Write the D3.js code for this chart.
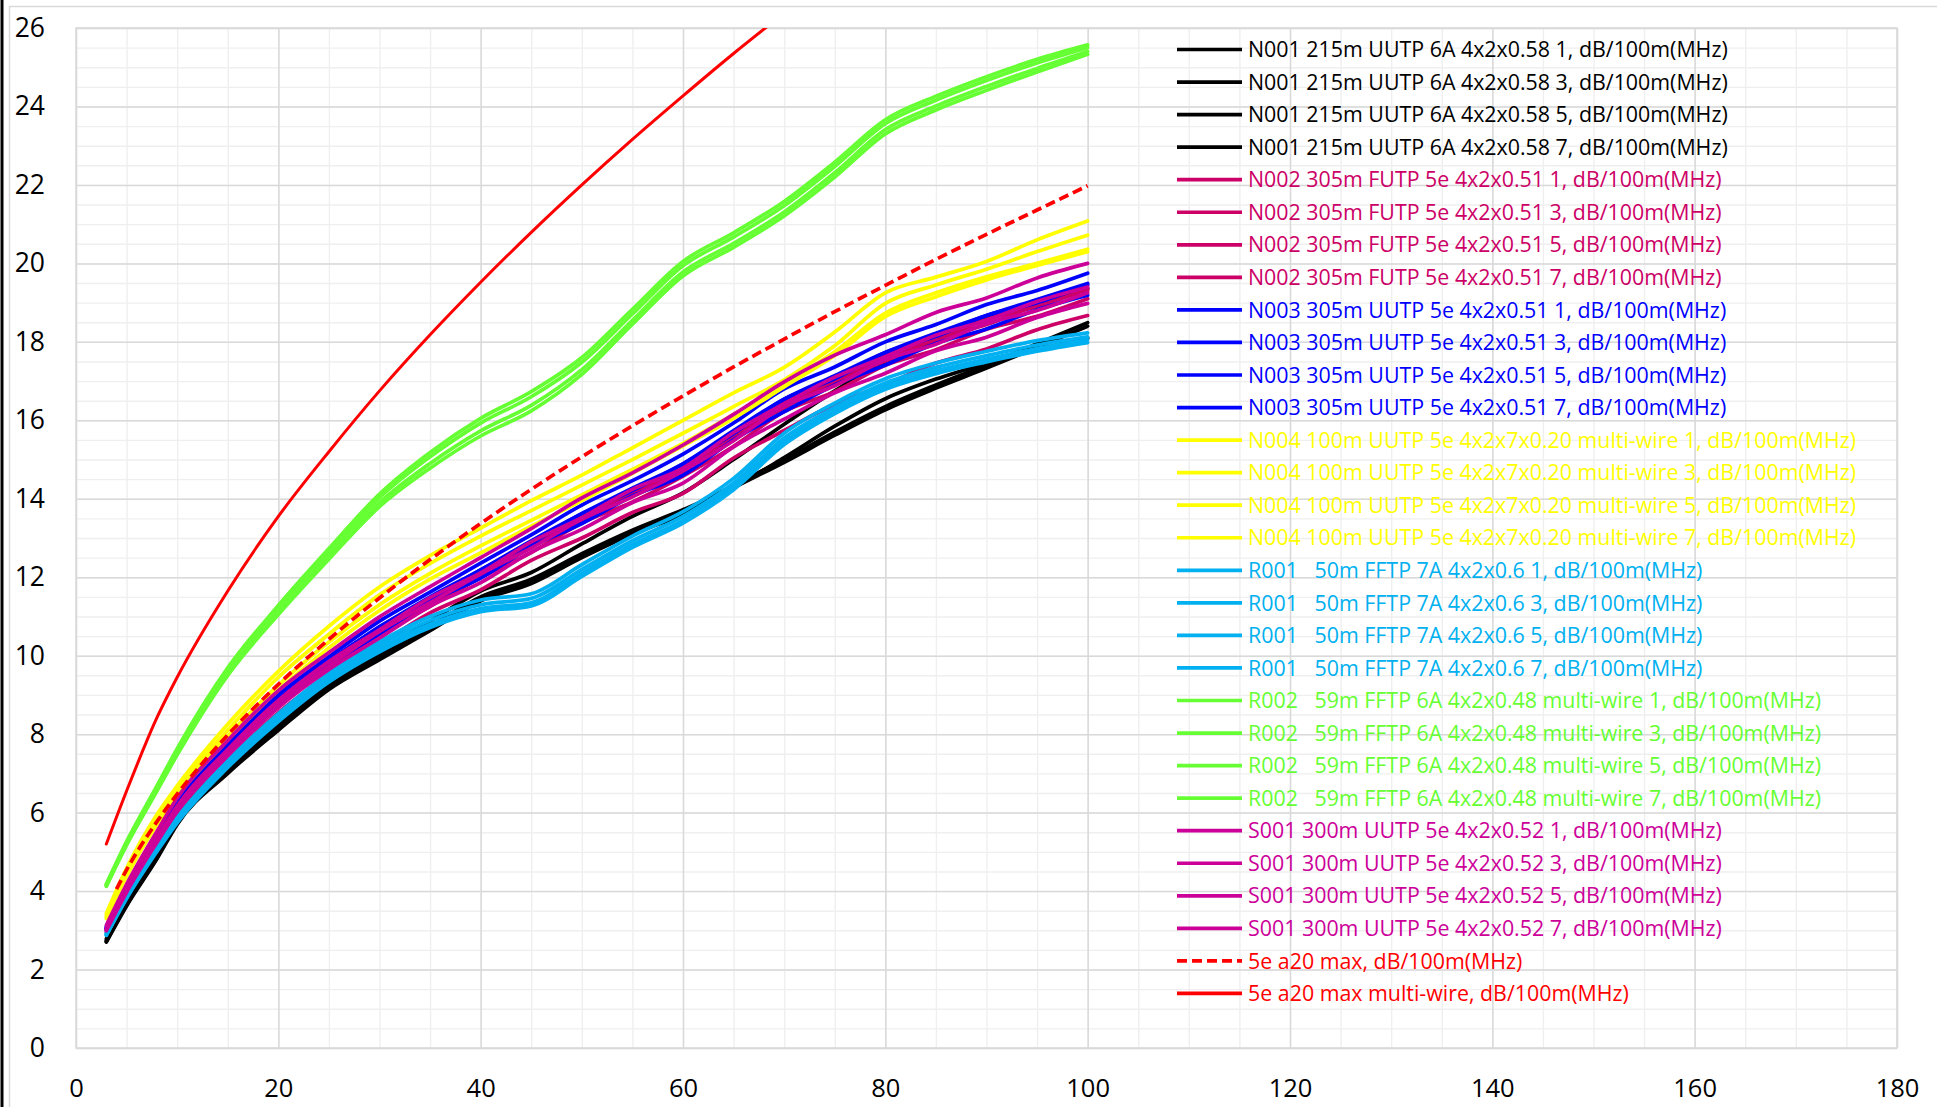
<!DOCTYPE html>
<html>
<head>
<meta charset="utf-8">
<script src="https://cdn.jsdelivr.net/npm/d3@7"></script>
<style>
  html, body { margin: 0; padding: 0; background: #ffffff; }
  svg { display: block; }
  text { font-family: "Open Sans", "Noto Sans", sans-serif; }
</style>
</head>
<body>
<svg id="chart" width="1937" height="1107"></svg>
<script>
// ---- Insertion loss, dB/100m, versus frequency (MHz) ----
const freq = [3, 5, 8, 10, 15, 20, 25, 30, 35, 40, 45, 50, 55, 60, 65, 70, 75, 80, 85, 90, 95, 100];
const freqLimit = [4, 5, 8, 10, 15, 20, 25, 30, 35, 40, 45, 50, 55, 60, 65, 70, 75, 80, 85, 90, 95, 100];

const n001_1 = [2.72, 3.65, 4.85, 5.74, 7.05, 8.15, 9.2, 9.95, 10.7, 11.45, 11.9, 12.55, 13.15, 13.65, 14.35, 15.0, 15.7, 16.35, 16.9, 17.41, 17.95, 18.49];
const n001_3 = [2.78, 3.72, 4.95, 5.82, 7.15, 8.28, 9.32, 10.1, 10.88, 11.65, 12.12, 12.85, 13.55, 14.15, 15.0, 15.9, 16.75, 17.5, 18.05, 18.62, 19.0, 19.36];
const n001_5 = [2.74, 3.67, 4.88, 5.77, 7.1, 8.2, 9.25, 10.0, 10.75, 11.5, 11.95, 12.6, 13.2, 13.72, 14.3, 15.05, 15.85, 16.55, 17.05, 17.45, 17.8, 18.1];
const n001_7 = [2.7, 3.62, 4.82, 5.7, 7.0, 8.1, 9.14, 9.9, 10.64, 11.4, 11.84, 12.5, 13.1, 13.6, 14.28, 14.93, 15.62, 16.27, 16.82, 17.33, 17.86, 18.4];

const n002_1 = [3.04, 4.04, 5.34, 6.15, 7.59, 8.83, 9.78, 10.67, 11.4, 12.13, 12.8, 13.55, 14.13, 14.8, 15.57, 16.45, 16.97, 17.64, 18.04, 18.57, 18.9, 19.35];
const n002_3 = [3.03, 4.03, 5.33, 6.14, 7.57, 8.81, 9.8, 10.61, 11.43, 12.05, 12.84, 13.45, 14.16, 14.69, 15.6, 16.32, 17.0, 17.51, 18.07, 18.44, 18.93, 19.3];
const n002_5 = [3.01, 3.99, 5.27, 6.07, 7.5, 8.73, 9.67, 10.56, 11.26, 11.99, 12.63, 13.38, 13.92, 14.58, 15.34, 16.22, 16.73, 17.4, 17.8, 18.32, 18.65, 19.1];
const n002_7 = [2.95, 3.91, 5.15, 5.93, 7.34, 8.55, 9.51, 10.29, 11.09, 11.68, 12.43, 13.0, 13.65, 14.14, 15.04, 15.74, 16.41, 16.91, 17.46, 17.82, 18.31, 18.67];

const n003_1 = [3.09, 4.12, 5.45, 6.29, 7.75, 9.0, 9.97, 10.88, 11.62, 12.36, 13.08, 13.84, 14.46, 15.14, 15.93, 16.8, 17.36, 18.0, 18.44, 18.95, 19.31, 19.75];
const n003_3 = [3.06, 4.07, 5.38, 6.2, 7.65, 8.89, 9.87, 10.73, 11.5, 12.19, 12.93, 13.62, 14.27, 14.89, 15.74, 16.54, 17.14, 17.73, 18.22, 18.67, 19.08, 19.49];
const n003_5 = [3.05, 4.06, 5.37, 6.19, 7.63, 8.88, 9.83, 10.74, 11.45, 12.19, 12.87, 13.62, 14.21, 14.89, 15.66, 16.54, 17.06, 17.73, 18.14, 18.67, 19.0, 19.45];
const n003_7 = [3.02, 4.01, 5.3, 6.1, 7.53, 8.77, 9.75, 10.55, 11.37, 11.98, 12.77, 13.37, 14.07, 14.6, 15.5, 16.22, 16.9, 17.41, 17.96, 18.33, 18.82, 19.19];

const n004_1 = [3.43, 4.58, 5.95, 6.68, 8.25, 9.6, 10.75, 11.75, 12.55, 13.25, 13.95, 14.6, 15.3, 16.0, 16.7, 17.35, 18.25, 19.25, 19.65, 20.05, 20.6, 21.08];
const n004_3 = [3.38, 4.5, 5.87, 6.6, 8.1, 9.45, 10.55, 11.55, 12.35, 13.05, 13.7, 14.35, 15.0, 15.67, 16.35, 17.03, 17.9, 18.98, 19.45, 19.85, 20.3, 20.72];
const n004_5 = [3.33, 4.43, 5.78, 6.5, 7.95, 9.25, 10.35, 11.3, 12.1, 12.8, 13.45, 14.1, 14.75, 15.41, 16.15, 16.94, 17.75, 18.73, 19.25, 19.66, 20.0, 20.36];
const n004_7 = [3.3, 4.38, 5.7, 6.42, 7.85, 9.12, 10.2, 11.15, 11.95, 12.62, 13.3, 13.95, 14.65, 15.35, 16.05, 16.85, 17.65, 18.64, 19.15, 19.58, 19.95, 20.3];

const r001_1 = [2.92, 3.89, 5.12, 5.87, 7.32, 8.52, 9.56, 10.36, 11.0, 11.42, 11.58, 12.32, 13.05, 13.67, 14.52, 15.67, 16.44, 17.06, 17.46, 17.76, 18.03, 18.23];
const r001_3 = [2.9, 3.86, 5.08, 5.82, 7.26, 8.45, 9.48, 10.27, 10.9, 11.3, 11.46, 12.2, 12.93, 13.55, 14.4, 15.55, 16.33, 16.95, 17.35, 17.65, 17.92, 18.13];
const r001_5 = [2.88, 3.83, 5.04, 5.78, 7.2, 8.38, 9.4, 10.18, 10.8, 11.2, 11.35, 12.1, 12.83, 13.45, 14.3, 15.45, 16.24, 16.86, 17.26, 17.56, 17.83, 18.05];
const r001_7 = [2.87, 3.81, 5.01, 5.74, 7.15, 8.32, 9.33, 10.1, 10.72, 11.12, 11.27, 12.02, 12.76, 13.38, 14.23, 15.38, 16.17, 16.79, 17.19, 17.49, 17.76, 17.98];

const r002_1 = [4.18, 5.26, 6.68, 7.63, 9.69, 11.28, 12.73, 14.12, 15.18, 16.05, 16.73, 17.6, 18.83, 20.05, 20.78, 21.58, 22.58, 23.66, 24.26, 24.76, 25.2, 25.57];
const r002_3 = [4.16, 5.23, 6.64, 7.58, 9.63, 11.21, 12.65, 14.03, 15.07, 15.93, 16.6, 17.48, 18.71, 19.94, 20.67, 21.47, 22.47, 23.56, 24.16, 24.66, 25.11, 25.5];
const r002_5 = [4.14, 5.2, 6.59, 7.52, 9.56, 11.12, 12.55, 13.9, 14.9, 15.73, 16.38, 17.29, 18.55, 19.78, 20.51, 21.31, 22.31, 23.41, 24.01, 24.51, 24.97, 25.4];
const r002_7 = [4.12, 5.17, 6.55, 7.47, 9.5, 11.05, 12.46, 13.8, 14.78, 15.6, 16.24, 17.17, 18.45, 19.68, 20.41, 21.21, 22.2, 23.3, 23.91, 24.41, 24.88, 25.33];

const s001_1 = [3.13, 4.17, 5.52, 6.37, 7.84, 9.11, 10.08, 10.99, 11.76, 12.5, 13.24, 14.02, 14.66, 15.37, 16.15, 16.98, 17.66, 18.18, 18.75, 19.12, 19.63, 20.0];
const s001_3 = [3.05, 4.05, 5.36, 6.17, 7.61, 8.86, 9.85, 10.66, 11.48, 12.11, 12.9, 13.52, 14.24, 14.78, 15.69, 16.42, 17.1, 17.62, 18.17, 18.55, 19.03, 19.4];
const s001_5 = [3.03, 4.02, 5.31, 6.12, 7.56, 8.79, 9.74, 10.62, 11.35, 12.08, 12.74, 13.48, 14.05, 14.71, 15.48, 16.36, 16.88, 17.54, 17.94, 18.47, 18.8, 19.25];
const s001_7 = [2.99, 3.97, 5.24, 6.03, 7.45, 8.68, 9.65, 10.45, 11.26, 11.86, 12.64, 13.22, 13.9, 14.4, 15.32, 16.03, 16.7, 17.2, 17.77, 18.12, 18.62, 18.98];

const limit5e = [4.05, 4.54, 5.77, 6.47, 7.98, 9.27, 10.42, 11.47, 12.45, 13.37, 14.24, 15.07, 15.86, 16.62, 17.36, 18.07, 18.77, 19.44, 20.10, 20.74, 21.36, 21.98];
const limit5eMulti = [5.2, 6.55, 8.42, 9.45, 11.65, 13.55, 15.2, 16.75, 18.18, 19.52, 20.79, 22.0, 23.16, 24.27, 25.35, 26.38, 27.4, 28.38, 29.35, 30.28, 31.19, 32.09];

const xTicks = [0, 20, 40, 60, 80, 100, 120, 140, 160, 180];
const yTicks = [0, 2, 4, 6, 8, 10, 12, 14, 16, 18, 20, 22, 24, 26];

const colBlack = "#000000", colCrimson = "#CC0066", colBlue = "#0000FF", colYellow = "#FFFF00",
      colSky = "#00B0F0", colGreen = "#66FF33", colMagenta = "#CC0099", colRed = "#FF0000";

const series = [
  { name: "N001 215m UUTP 6A 4x2x0.58 1, dB/100m(MHz)", color: colBlack, xs: freq, ys: n001_1 },
  { name: "N001 215m UUTP 6A 4x2x0.58 3, dB/100m(MHz)", color: colBlack, xs: freq, ys: n001_3 },
  { name: "N001 215m UUTP 6A 4x2x0.58 5, dB/100m(MHz)", color: colBlack, xs: freq, ys: n001_5 },
  { name: "N001 215m UUTP 6A 4x2x0.58 7, dB/100m(MHz)", color: colBlack, xs: freq, ys: n001_7 },
  { name: "N002 305m FUTP 5e 4x2x0.51 1, dB/100m(MHz)", color: colCrimson, xs: freq, ys: n002_1 },
  { name: "N002 305m FUTP 5e 4x2x0.51 3, dB/100m(MHz)", color: colCrimson, xs: freq, ys: n002_3 },
  { name: "N002 305m FUTP 5e 4x2x0.51 5, dB/100m(MHz)", color: colCrimson, xs: freq, ys: n002_5 },
  { name: "N002 305m FUTP 5e 4x2x0.51 7, dB/100m(MHz)", color: colCrimson, xs: freq, ys: n002_7 },
  { name: "N003 305m UUTP 5e 4x2x0.51 1, dB/100m(MHz)", color: colBlue, xs: freq, ys: n003_1 },
  { name: "N003 305m UUTP 5e 4x2x0.51 3, dB/100m(MHz)", color: colBlue, xs: freq, ys: n003_3 },
  { name: "N003 305m UUTP 5e 4x2x0.51 5, dB/100m(MHz)", color: colBlue, xs: freq, ys: n003_5 },
  { name: "N003 305m UUTP 5e 4x2x0.51 7, dB/100m(MHz)", color: colBlue, xs: freq, ys: n003_7 },
  { name: "N004 100m UUTP 5e 4x2x7x0.20 multi-wire 1, dB/100m(MHz)", color: colYellow, xs: freq, ys: n004_1 },
  { name: "N004 100m UUTP 5e 4x2x7x0.20 multi-wire 3, dB/100m(MHz)", color: colYellow, xs: freq, ys: n004_3 },
  { name: "N004 100m UUTP 5e 4x2x7x0.20 multi-wire 5, dB/100m(MHz)", color: colYellow, xs: freq, ys: n004_5 },
  { name: "N004 100m UUTP 5e 4x2x7x0.20 multi-wire 7, dB/100m(MHz)", color: colYellow, xs: freq, ys: n004_7 },
  { name: "R001   50m FFTP 7A 4x2x0.6 1, dB/100m(MHz)", color: colSky, xs: freq, ys: r001_1 },
  { name: "R001   50m FFTP 7A 4x2x0.6 3, dB/100m(MHz)", color: colSky, xs: freq, ys: r001_3 },
  { name: "R001   50m FFTP 7A 4x2x0.6 5, dB/100m(MHz)", color: colSky, xs: freq, ys: r001_5 },
  { name: "R001   50m FFTP 7A 4x2x0.6 7, dB/100m(MHz)", color: colSky, xs: freq, ys: r001_7 },
  { name: "R002   59m FFTP 6A 4x2x0.48 multi-wire 1, dB/100m(MHz)", color: colGreen, xs: freq, ys: r002_1 },
  { name: "R002   59m FFTP 6A 4x2x0.48 multi-wire 3, dB/100m(MHz)", color: colGreen, xs: freq, ys: r002_3 },
  { name: "R002   59m FFTP 6A 4x2x0.48 multi-wire 5, dB/100m(MHz)", color: colGreen, xs: freq, ys: r002_5 },
  { name: "R002   59m FFTP 6A 4x2x0.48 multi-wire 7, dB/100m(MHz)", color: colGreen, xs: freq, ys: r002_7 },
  { name: "S001 300m UUTP 5e 4x2x0.52 1, dB/100m(MHz)", color: colMagenta, xs: freq, ys: s001_1 },
  { name: "S001 300m UUTP 5e 4x2x0.52 3, dB/100m(MHz)", color: colMagenta, xs: freq, ys: s001_3 },
  { name: "S001 300m UUTP 5e 4x2x0.52 5, dB/100m(MHz)", color: colMagenta, xs: freq, ys: s001_5 },
  { name: "S001 300m UUTP 5e 4x2x0.52 7, dB/100m(MHz)", color: colMagenta, xs: freq, ys: s001_7 },
  { name: "5e a20 max, dB/100m(MHz)", color: colRed, xs: freqLimit, ys: limit5e, dashed: true },
  { name: "5e a20 max multi-wire, dB/100m(MHz)", color: colRed, xs: freq, ys: limit5eMulti, thin: true }
];

// ---- layout ----
const W = 1937, H = 1107;
const plot = { left: 76, right: 1897, top: 28, bottom: 1048 };
const x = d3.scaleLinear().domain([0, 180]).range([plot.left, plot.right]);
const y = d3.scaleLinear().domain([0, 26]).range([plot.bottom, plot.top]);
const FONT = "'Open Sans', 'Noto Sans', sans-serif";

const svg = d3.select("#chart");
svg.append("rect").attr("width", W).attr("height", H).attr("fill", "#ffffff");

// chart area frame and window edge
svg.append("rect")
  .attr("x", 9.5).attr("y", 6.5).attr("width", W + 10).attr("height", H + 10)
  .attr("fill", "none").attr("stroke", "#d9d9d9").attr("stroke-width", 1.5);
svg.append("line")
  .attr("x1", 2).attr("x2", 2).attr("y1", 0).attr("y2", H)
  .attr("stroke", "#000000").attr("stroke-width", 3);

const plotH = plot.bottom - plot.top, plotW = plot.right - plot.left;

// minor gridlines
svg.append("g")
  .attr("transform", `translate(0,${plot.bottom})`)
  .call(d3.axisBottom(x).tickValues(d3.range(0, 181, 5)).tickSize(-plotH).tickFormat(""))
  .call(g => g.select(".domain").remove())
  .call(g => g.selectAll("line").attr("stroke", "#efefef").attr("stroke-width", 1.4));
svg.append("g")
  .attr("transform", `translate(${plot.left},0)`)
  .call(d3.axisLeft(y).tickValues(d3.range(0, 26.01, 0.5)).tickSize(-plotW).tickFormat(""))
  .call(g => g.select(".domain").remove())
  .call(g => g.selectAll("line").attr("stroke", "#efefef").attr("stroke-width", 1.4));

// major gridlines
svg.append("g")
  .attr("transform", `translate(0,${plot.bottom})`)
  .call(d3.axisBottom(x).tickValues(xTicks).tickSize(-plotH).tickFormat(""))
  .call(g => g.select(".domain").remove())
  .call(g => g.selectAll("line").attr("stroke", "#d9d9d9").attr("stroke-width", 1.5));
svg.append("g")
  .attr("transform", `translate(${plot.left},0)`)
  .call(d3.axisLeft(y).tickValues(yTicks).tickSize(-plotW).tickFormat(""))
  .call(g => g.select(".domain").remove())
  .call(g => g.selectAll("line").attr("stroke", "#d9d9d9").attr("stroke-width", 1.5));

// plot area border
svg.append("rect")
  .attr("x", plot.left).attr("y", plot.top).attr("width", plotW).attr("height", plotH)
  .attr("fill", "none").attr("stroke", "#d9d9d9").attr("stroke-width", 1.5);

// axis labels
svg.append("g")
  .attr("transform", `translate(${plot.left},0)`)
  .call(d3.axisLeft(y).tickValues(yTicks).tickSize(0).tickPadding(31).tickFormat(d3.format("d")))
  .call(g => g.select(".domain").remove())
  .call(g => g.selectAll("text").attr("font-size", 26.5).attr("fill", "#000").attr("font-family", FONT));
svg.append("g")
  .attr("transform", `translate(0,${plot.bottom})`)
  .call(d3.axisBottom(x).tickValues(xTicks).tickSize(0).tickPadding(31).tickFormat(d3.format("d")))
  .call(g => g.select(".domain").remove())
  .call(g => g.selectAll("text").attr("font-size", 25.5).attr("fill", "#000").attr("font-family", FONT));

// clip for the curves
svg.append("defs").append("clipPath").attr("id", "plotClip")
  .append("rect").attr("x", plot.left).attr("y", plot.top).attr("width", plotW).attr("height", plotH);

const line = d3.line()
  .x(d => x(d[0]))
  .y(d => y(d[1]))
  .curve(d3.curveMonotoneX);

const curves = svg.append("g").attr("clip-path", "url(#plotClip)");
series.forEach(s => {
  const pts = s.xs.map((f, i) => [f, s.ys[i]]);
  curves.append("path")
    .attr("d", line(pts))
    .attr("fill", "none")
    .attr("stroke", s.color)
    .attr("stroke-width", s.thin ? 3 : 3.7)
    .attr("stroke-linejoin", "round")
    .attr("stroke-linecap", s.dashed ? "butt" : "round")
    .attr("stroke-dasharray", s.dashed ? "10,5" : null);
});

// legend
const legend = svg.append("g").attr("class", "legend");
const rowY0 = 49.5, rowStep = 32.55;
const sampleX0 = 1177, sampleX1 = 1242, textX = 1248;

// size the legend font so the first entry spans its measured width
const probe = legend.append("text").attr("font-size", 20).attr("font-family", FONT).text(series[0].name);
const probeW = probe.node().getComputedTextLength();
probe.remove();
const legendFont = 20 * 480 / probeW;

series.forEach((s, i) => {
  const yy = rowY0 + i * rowStep;
  legend.append("line")
    .attr("x1", sampleX0).attr("x2", sampleX1).attr("y1", yy).attr("y2", yy)
    .attr("stroke", s.color).attr("stroke-width", 3.7)
    .attr("stroke-dasharray", s.dashed ? "10,5" : null);
  legend.append("text")
    .attr("x", textX).attr("y", yy + 0.36 * legendFont)
    .attr("font-size", legendFont)
    .attr("font-family", FONT)
    .attr("fill", s.color)
    .attr("xml:space", "preserve")
    .style("white-space", "pre")
    .text(s.name);
});
</script>
</body>
</html>
